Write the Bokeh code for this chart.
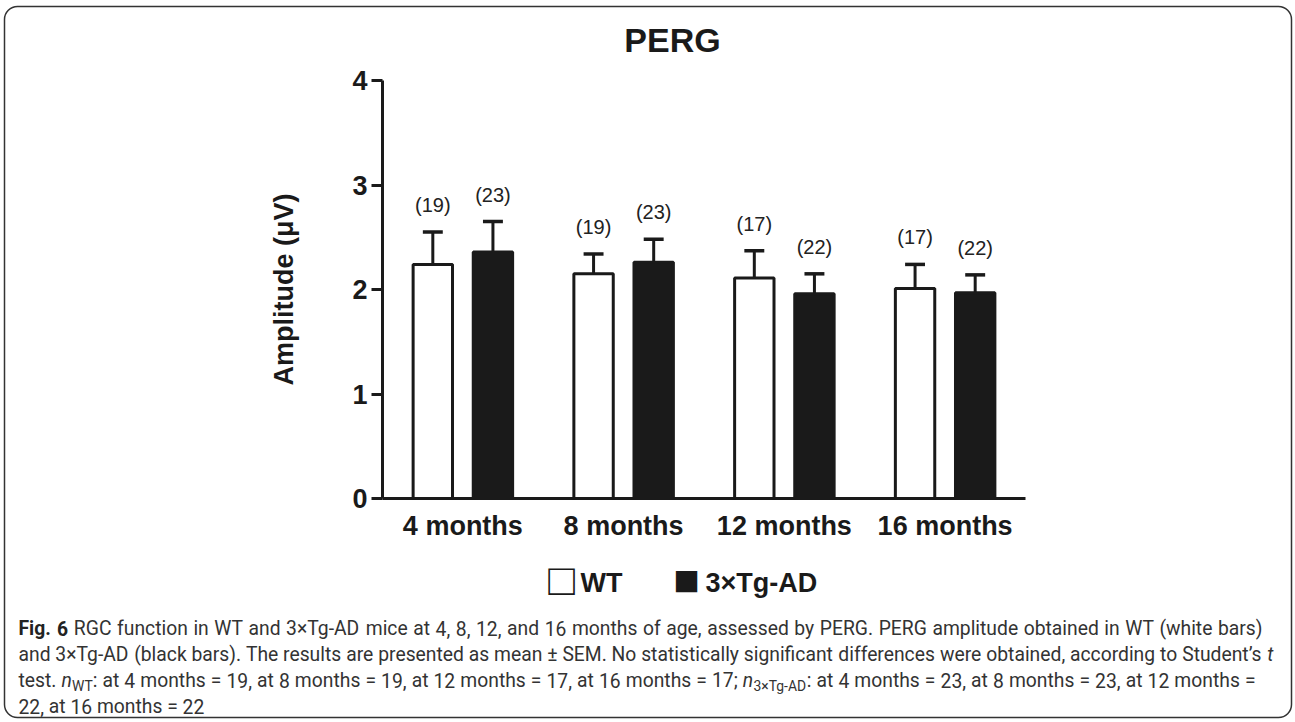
from bokeh.plotting import figure
from bokeh.models import Range1d, FixedTicker, ColumnDataSource, LinearAxis, Quad
from bokeh.transform import dodge
from bokeh.core.properties import value
from bokeh.embed import file_html
from bokeh.resources import INLINE

# ---------------- data ----------------
months = ["4 months", "8 months", "12 months", "16 months"]
wt_mean = [2.24, 2.15, 2.11, 2.01]
wt_sem = [0.31, 0.19, 0.26, 0.23]
tg_mean = [2.36, 2.26, 1.96, 1.97]
tg_sem = [0.29, 0.22, 0.19, 0.17]
wt_n = [19, 19, 17, 17]
tg_n = [23, 23, 22, 22]
y_ticks = [0, 1, 2, 3, 4]
series_names = ["WT", "3×Tg-AD"]
title_text = "PERG"
y_title = "Amplitude (μV)"

caption = [
    [("Fig. 6", "b"),
     (" RGC function in WT and 3×Tg-AD mice at 4, 8, 12, and 16 months of age, assessed by PERG. PERG amplitude obtained in WT (white bars)", "r")],
    [("and 3×Tg-AD (black bars). The results are presented as mean ± SEM. No statistically significant differences were obtained, according to Student’s ", "r"),
     ("t", "i")],
    [("test. ", "r"), ("n", "i"), ("WT", "sub"),
     (": at 4 months = 19, at 8 months = 19, at 12 months = 17, at 16 months = 17; ", "r"),
     ("n", "i"), ("3×Tg-AD", "sub"),
     (": at 4 months = 23, at 8 months = 23, at 12 months =", "r")],
    [("22, at 16 months = 22", "r")],
]

INK = "#1a1a1a"
FONT = "Liberation Sans"
W, H = 1295, 721

# page layout of the plotting area (pixels)
FRAME_L, GROUP_PX = 382, 160.75     # left edge of the plot area, width of one month group
Y0_PX, UNIT_PX = 498, 104.5         # pixel row of amplitude 0, pixels per µV

# whole canvas is the frame; main ranges are page pixels (for texts)
p = figure(width=W, height=H, x_range=Range1d(0, W), y_range=Range1d(H, 0),
           x_axis_type=None, y_axis_type=None, output_backend="svg",
           toolbar_location=None, min_border=0)
p.grid.visible = False
p.outline_line_color = None

# chart ranges
p.extra_x_ranges = {"cx": Range1d(-FRAME_L / GROUP_PX, (W - FRAME_L) / GROUP_PX)}
p.extra_y_ranges = {"cy": Range1d(-(H - Y0_PX) / UNIT_PX, Y0_PX / UNIT_PX)}
R = dict(x_range_name="cx", y_range_name="cy")

centers = [i + 0.5 for i in range(len(months))]
src = ColumnDataSource(dict(
    xc=centers,
    wt=wt_mean, wt_top=[m + s for m, s in zip(wt_mean, wt_sem)],
    tg=tg_mean, tg_top=[m + s for m, s in zip(tg_mean, tg_sem)],
    wt_lbl=[f"({n})" for n in wt_n], tg_lbl=[f"({n})" for n in tg_n],
))

xa = LinearAxis(fixed_location=0, bounds=(0, len(months)),
                ticker=FixedTicker(ticks=centers),
                major_label_overrides={c: m for c, m in zip(centers, months)}, **R)
xa.axis_line_width = 3
xa.axis_line_color = INK
xa.major_tick_line_color = None
xa.minor_tick_line_color = None
xa.major_label_text_font = FONT
xa.major_label_text_font_style = "bold"
xa.major_label_text_font_size = "27px"
xa.major_label_text_color = INK
xa.major_label_standoff = 6
p.add_layout(xa, "below")

ya = LinearAxis(fixed_location=0, bounds=(0, 4), ticker=FixedTicker(ticks=y_ticks), **R)
ya.axis_line_width = 3
ya.axis_line_color = INK
ya.major_tick_out = 11
ya.major_tick_in = 0
ya.major_tick_line_width = 3
ya.major_tick_line_color = INK
ya.minor_tick_line_color = None
ya.major_label_text_font = FONT
ya.major_label_text_font_style = "bold"
ya.major_label_text_font_size = "27px"
ya.major_label_text_color = INK
ya.major_label_standoff = 4
ya.axis_label = y_title
ya.axis_label_text_font = FONT
ya.axis_label_text_font_style = "bold"
ya.axis_label_text_font_size = "27px"
ya.axis_label_text_color = INK
ya.axis_label_standoff = 50
p.add_layout(ya, "left")

OFF = 0.187
BW = 0.245
CAP = 0.062

for key, off, fill in (("wt", -OFF, "white"), ("tg", OFF, INK)):
    xc = dodge("xc", off)
    p.segment(x0=xc, y0=key, x1=xc, y1=key + "_top", source=src, line_color=INK,
              line_width=3, **R)
    p.segment(x0=dodge("xc", off - CAP), y0=key + "_top", x1=dodge("xc", off + CAP),
              y1=key + "_top", source=src, line_color=INK, line_width=3.5, **R)
    p.vbar(x=xc, top=key, bottom=0, width=BW, source=src,
           fill_color=fill, line_color=INK, line_width=3, **R)
    p.text(x=xc, y=key + "_top", text=key + "_lbl", source=src, y_offset=-27,
           text_align="center", text_baseline="middle", text_font=value(FONT),
           text_font_size="20px", text_color="#222", **R)


def put(x, y, s, **kw):
    opts = dict(text_font=value(FONT), text_color=INK, text_align="left",
                text_baseline="middle")
    opts.update(kw)
    p.text(x=x if isinstance(x, list) else [x], y=y if isinstance(y, list) else [y],
           text=s if isinstance(s, list) else [s], **opts)


# title
put(672, 39, title_text, text_align="center", text_font_size="34px",
    text_font_style="bold")

# legend
put(561, 579, "□", text_align="center", text_baseline="alphabetic", text_font_size="44px")
put(580, 582, series_names[0], text_font_size="27px", text_font_style="bold")
put(686, 579, "■", text_align="center", text_baseline="alphabetic", text_font_size="44px")
put(705, 582, series_names[1], text_font_size="27px", text_font_style="bold")

# caption (justified like the reference)
ROB = dict(zip("abcdefghijklmnopqrstuvwxyz",
               [0.544, 0.561, 0.523, 0.563, 0.529, 0.347, 0.561, 0.551, 0.243, 0.239, 0.507,
                0.243, 0.876, 0.552, 0.570, 0.561, 0.567, 0.339, 0.515, 0.327, 0.551, 0.484,
                0.751, 0.496, 0.473, 0.496]))
for d in "0123456789":
    ROB[d] = 0.562
ROB.update({" ": 0.248, ".": 0.263, ",": 0.197, ":": 0.242, ";": 0.212, "=": 0.549,
            "(": 0.342, ")": 0.348, "-": 0.276, "×": 0.532, "±": 0.543, "’": 0.196,
            "A": 0.652, "C": 0.652, "D": 0.655, "E": 0.568, "F": 0.553, "G": 0.681,
            "M": 0.873, "N": 0.713, "P": 0.631, "R": 0.616, "S": 0.594, "T": 0.597,
            "W": 0.887})
SUB = 0.72


def tw(s, size, bold=False):
    return sum(ROB.get(c, 0.55) for c in s) * size * (1.05 if bold else 1.0)


def words_of(line):
    words = [[]]
    for txt, st in line:
        for k, part in enumerate(txt.split(" ")):
            if k > 0:
                words.append([])
            if part:
                words[-1].append((part, st))
    return [w for w in words if w]


def word_w(word, size):
    return sum(tw(t, size * (SUB if st == "sub" else 1), st == "b") for t, st in word)


def natural(line, size):
    ws = words_of(line)
    return sum(word_w(w, size) for w in ws) + (len(ws) - 1) * tw(" ", size)


X_START = 18.0
targets = [1262, 1273, 1255, None]
baselines = [628, 654, 680, 706]
cap_size = min((t - X_START) / natural(l, 1.0) for l, t in zip(caption, targets) if t)
runs = {}
for line, target, by in zip(caption, targets, baselines):
    ws = words_of(line)
    gap = tw(" ", cap_size)
    if target is not None and len(ws) > 1:
        gap += (target - X_START - natural(line, cap_size)) / (len(ws) - 1)
    x = X_START
    for word in ws:
        for txt, st in word:
            size = cap_size * (SUB if st == "sub" else 1.0)
            y = by + (cap_size * 0.28 if st == "sub" else 0)
            runs.setdefault(st, []).append((x, y, txt))
            x += tw(txt, size, st == "b")
        x += gap

for st, items in runs.items():
    size = cap_size * (SUB if st == "sub" else 1.0)
    put([a for a, _, _ in items], [b for _, b, _ in items], [c for _, _, c in items],
        text_baseline="alphabetic", text_font=value("Roboto"),
        text_font_size=f"{size:.2f}px",
        text_font_style={"b": "bold", "i": "italic"}.get(st, "normal"),
        text_color="#222" if st == "b" else "#333")

# rounded frame around figure + caption
box = dict(left=[4], right=[1291], top=[6], bottom=[717], fill_color=None,
           line_color="#333", line_width=1.5)
if "border_radius" in Quad.properties():
    box["border_radius"] = 13
p.quad(**box)

open("out.html", "w").write(file_html(p, INLINE))
